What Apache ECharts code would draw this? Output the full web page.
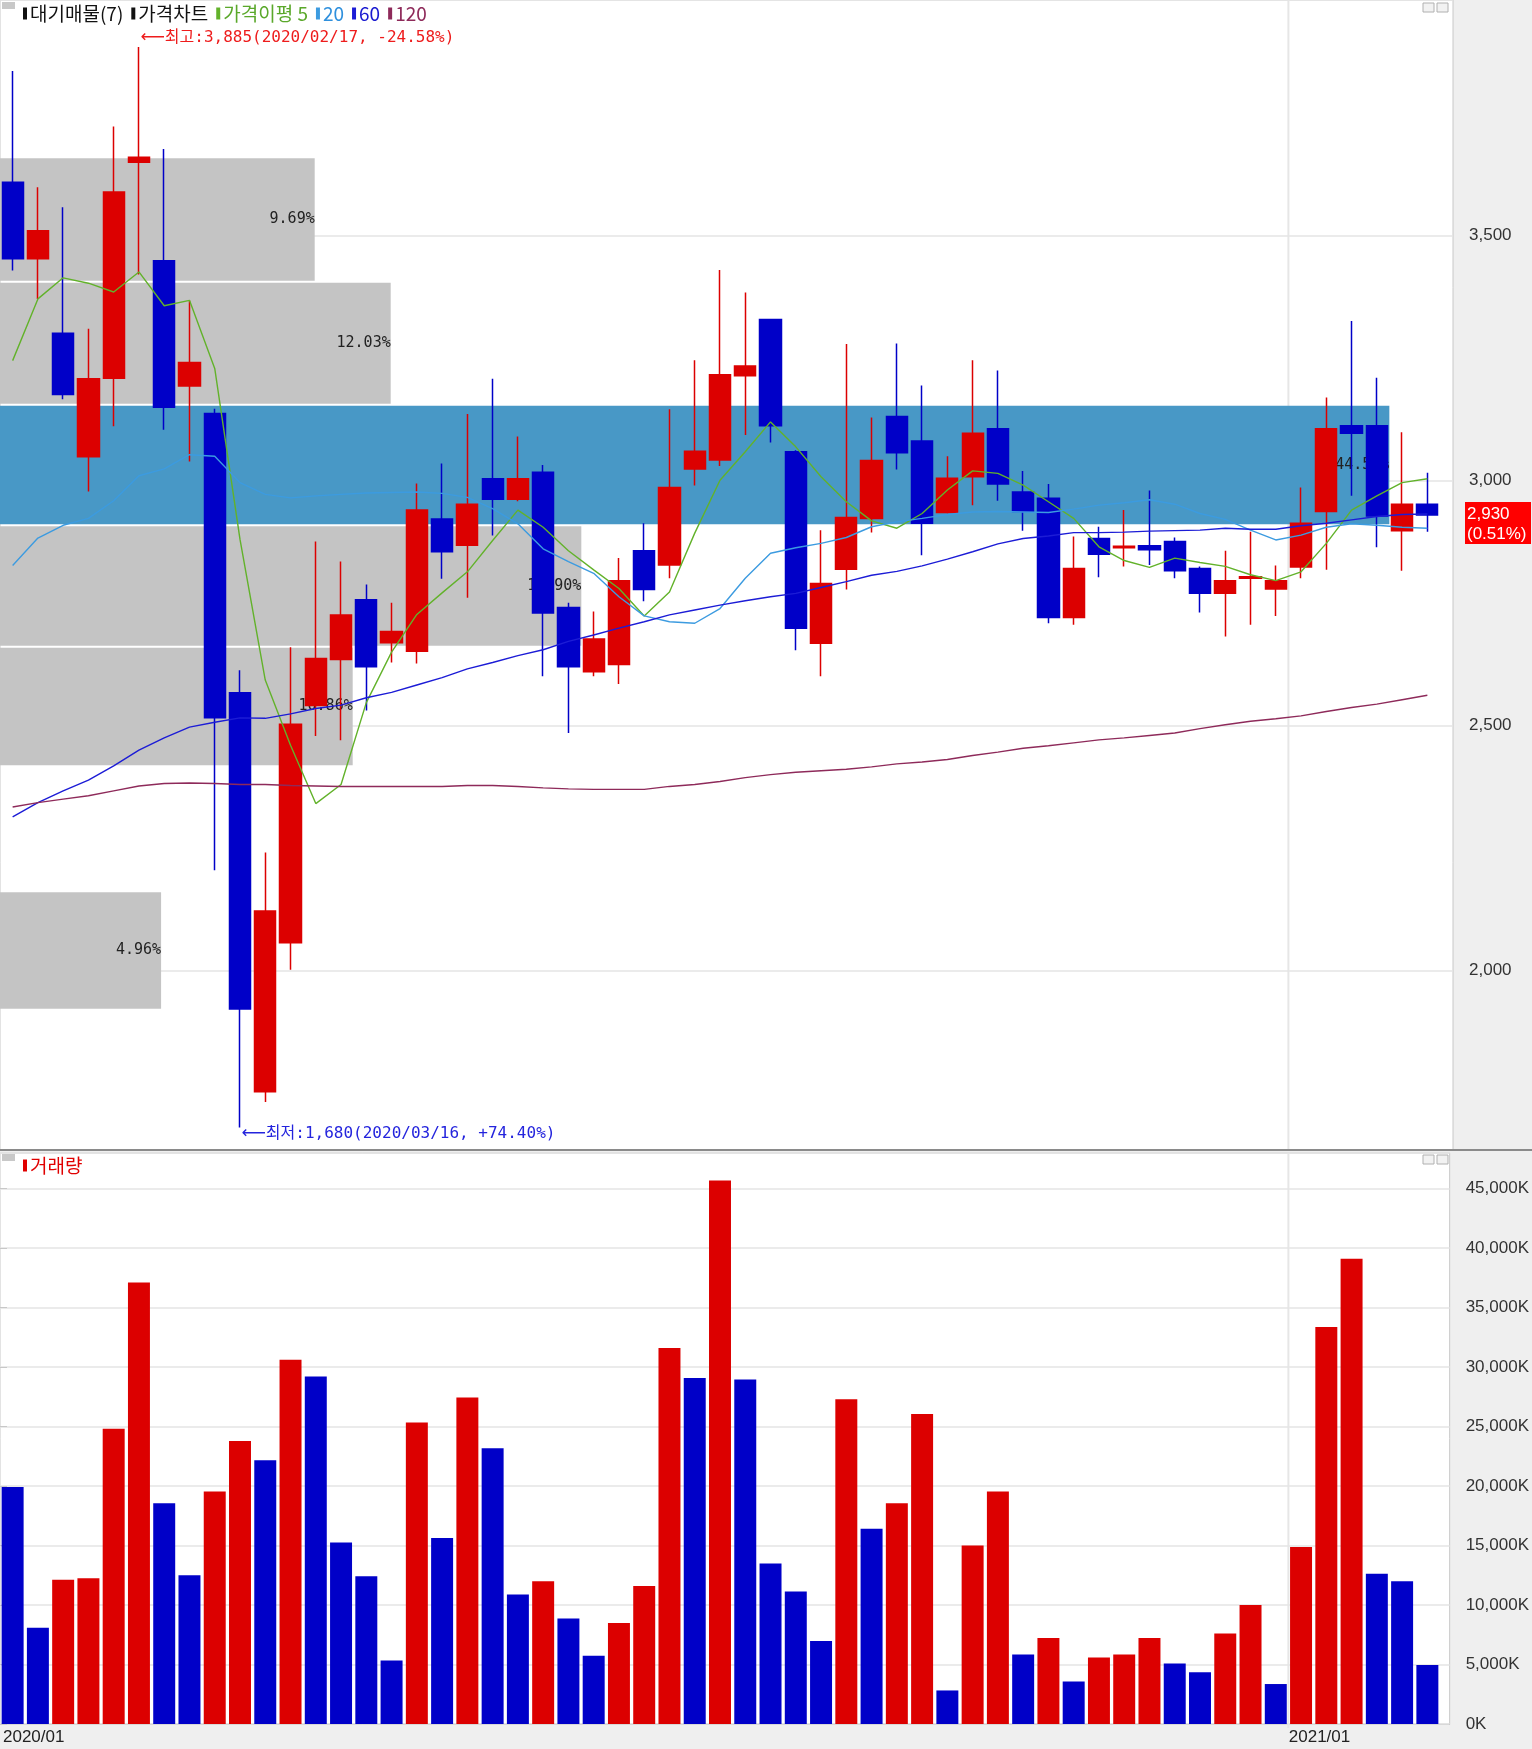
<!DOCTYPE html>
<html>
<head>
<meta charset="utf-8">
<script src="https://cdn.jsdelivr.net/npm/echarts@6/dist/echarts.min.js"></script>
<style>
  html, body { margin: 0; padding: 0; background: #efefef; }
  #chart { width: 1532px; height: 1749px; }
</style>
</head>
<body>
<div id="chart"></div>
<script>
// weekly bars, 2020/01/13 .. 2021/02/08
const dates = [
  '2020/01/13','2020/01/20','2020/01/27','2020/02/03','2020/02/10','2020/02/17','2020/02/24','2020/03/02','2020/03/09','2020/03/16',
  '2020/03/23','2020/03/30','2020/04/06','2020/04/13','2020/04/20','2020/04/27','2020/05/04','2020/05/11','2020/05/18','2020/05/25',
  '2020/06/01','2020/06/08','2020/06/15','2020/06/22','2020/06/29','2020/07/06','2020/07/13','2020/07/20','2020/07/27','2020/08/03',
  '2020/08/10','2020/08/17','2020/08/24','2020/08/31','2020/09/07','2020/09/14','2020/09/21','2020/09/28','2020/10/05','2020/10/12',
  '2020/10/19','2020/10/26','2020/11/02','2020/11/09','2020/11/16','2020/11/23','2020/11/30','2020/12/07','2020/12/14','2020/12/21',
  '2020/12/28','2021/01/04','2021/01/11','2021/01/18','2021/01/25','2021/02/01','2021/02/08'
];
const opens = [
  3609, 3453, 3301, 3049, 3209, 3650, 3449, 3193, 3137, 2567,
  1753, 2057, 2541, 2635, 2757, 2669, 2652, 2922, 2868, 3004,
  2962, 3017, 2741, 2610, 2625, 2857, 2828, 3024, 3042, 3214,
  3329, 3059, 2668, 2819, 2923, 3131, 3081, 2935, 3008, 3106,
  2977, 2964, 2721, 2882, 2863, 2867, 2876, 2821, 2770, 2801,
  2779, 2824, 2937, 3112, 3112, 2898, 2952
];
const closes = [
  3453, 3510, 3176, 3208, 3589, 3660, 3150, 3241, 2516, 1922,
  2122, 2503, 2637, 2726, 2620, 2692, 2940, 2855, 2952, 2962,
  3004, 2730, 2620, 2677, 2796, 2778, 2986, 3060, 3216, 3234,
  3112, 2699, 2790, 2925, 3041, 3057, 2913, 3005, 3097, 2993,
  2937, 2721, 2821, 2850, 2866, 2859, 2816, 2770, 2796, 2804,
  2796, 2913, 3106, 3097, 2928, 2952, 2930
];
const lows = [
  3429, 3371, 3166, 2978, 3111, 3421, 3104, 3039, 2205, 1680,
  1732, 2002, 2479, 2470, 2531, 2629, 2627, 2800, 2761, 2888,
  2958, 2601, 2485, 2601, 2585, 2754, 2801, 2990, 3030, 3093,
  3078, 2654, 2601, 2778, 2894, 3023, 2848, 2933, 2950, 2959,
  2898, 2709, 2706, 2803, 2825, 2828, 2801, 2731, 2682, 2706,
  2724, 2801, 2818, 2969, 2864, 2816, 2896
];
const highs = [
  3836, 3599, 3558, 3310, 3723, 3885, 3677, 3367, 3147, 2613,
  2241, 2660, 2876, 2835, 2788, 2751, 2994, 3035, 3136, 3208,
  3090, 3032, 2751, 2733, 2842, 2913, 3146, 3246, 3430, 3384,
  3329, 3062, 2899, 3279, 3129, 3280, 3194, 3050, 3246, 3225,
  3020, 2993, 2886, 2906, 2940, 2980, 2884, 2825, 2857, 2896,
  2827, 2986, 3170, 3326, 3210, 3099, 3016
];
const ma5 = [
  3245, 3371, 3414, 3403, 3385, 3426, 3357, 3368, 3229, 2880,
  2593, 2460, 2341, 2380, 2547, 2650, 2727, 2771, 2814, 2878,
  2940, 2905, 2857, 2818, 2780, 2724, 2773, 2893, 3001, 3059,
  3120, 3069, 3008, 2957, 2918, 2903, 2933, 2981, 3020, 3015,
  2991, 2957, 2923, 2865, 2837, 2823, 2842, 2833, 2825, 2808,
  2796, 2814, 2872, 2940, 2969, 2996, 3004
];
const ma20 = [
  2827, 2883, 2909, 2923, 2959, 3010, 3024, 3053, 3050, 2996,
  2972, 2965, 2969, 2972, 2975, 2976, 2977, 2974, 2966, 2943,
  2912, 2861, 2835, 2811, 2763, 2724, 2712, 2709, 2739, 2801,
  2852, 2863, 2872, 2884, 2906, 2916, 2923, 2931, 2936, 2937,
  2936, 2935, 2942, 2950, 2955, 2961, 2952, 2933, 2921, 2899,
  2879, 2889, 2905, 2912, 2909, 2905, 2903
];
const ma60 = [
  2314, 2343, 2367, 2389, 2418, 2450, 2475, 2497, 2507, 2516,
  2515, 2524, 2535, 2542, 2557, 2568, 2583, 2598, 2616, 2629,
  2643, 2655, 2672, 2685, 2699, 2712, 2726, 2736, 2746, 2755,
  2763, 2770, 2782, 2794, 2807, 2815, 2826, 2840, 2855, 2871,
  2882, 2887, 2894, 2894, 2895, 2897, 2898, 2899, 2903, 2901,
  2901, 2908, 2913, 2920, 2927, 2931, 2932
];
const ma120 = [
  2334, 2343, 2350, 2357, 2367, 2377, 2382, 2383, 2382, 2380,
  2380, 2378, 2377, 2376, 2376, 2376, 2376, 2376, 2378, 2378,
  2376, 2373, 2371, 2370, 2370, 2370, 2376, 2380, 2386, 2394,
  2400, 2405, 2408, 2411, 2416, 2422, 2426, 2431, 2439, 2446,
  2454, 2459, 2465, 2471, 2475, 2480, 2485, 2494, 2502, 2509,
  2514, 2520, 2529, 2537, 2544, 2553, 2562
];
// volume in thousands of shares
const volumes = [
  19930, 8090, 12120, 12250, 24820, 37110, 18550, 12510, 19550, 23800,
  22170, 30610, 29210, 15260, 12410, 5340, 25340, 15640, 27450, 23190,
  10880, 12000, 8860, 5730, 8480, 11610, 31610, 29080, 45680, 28950,
  13500, 11130, 6970, 27290, 16410, 18550, 26070, 2820, 15000, 19550,
  5850, 7230, 3580, 5600, 5850, 7230, 5090, 4350, 7610, 10010,
  3360, 14880, 33370, 39120, 12640, 12000, 4960
];
// 대기매물 (price-volume profile): band edges top->bottom and share of volume
const profileEdges = [3660, 3406, 3155, 2909, 2661, 2417, 2162, 1920];
const profilePct = [9.69, 12.03, 44.56, 17.90, 10.86, 0, 4.96];
const dayChangePct = 0.51;

const FONT_NUM = '"Liberation Sans", Arial, sans-serif';
const FONT_KR = '"Noto Sans CJK KR", "DejaVu Sans", sans-serif';
const FONT_MONO = '"DejaVu Sans Mono", "Noto Sans CJK KR", monospace';
const upColor = '#dc0000';
const downColor = '#0000c8';

const PRICE_MIN = 1634, PRICE_MAX = 3981;
const VOL_MAX = 48000;
const PROFILE_AXIS_MAX = 44.74, PROFILE_CAP = 42.78;

const fmt = v => v.toLocaleString('en-US');
const signed = v => (v >= 0 ? '+' : '') + v.toFixed(2);

const candleData = dates.map((d, i) => [opens[i], closes[i], lows[i], highs[i]]);
const lastClose = closes[closes.length - 1];
const maxHigh = Math.max(...highs), maxIdx = highs.indexOf(maxHigh);
const minLow = Math.min(...lows), minIdx = lows.indexOf(minLow);
const maxText = '{a|⟵}{t|최고:' + fmt(maxHigh) + '(' + dates[maxIdx] + ', ' + signed((lastClose - maxHigh) / maxHigh * 100) + '%)}';
const minText = '{a|⟵}{t|최저:' + fmt(minLow) + '(' + dates[minIdx] + ', ' + signed((lastClose - minLow) / minLow * 100) + '%)}';
const profileData = profilePct.map((p, i) => [p, profileEdges[i], profileEdges[i + 1]]);

const yearStart = i => i > 0 && i < dates.length && dates[i].slice(0, 4) !== dates[i - 1].slice(0, 4);

const chart = echarts.init(document.getElementById('chart'));

const catAxis = grid => ({
  gridIndex: grid, type: 'category', data: dates, boundaryGap: true,
  axisLine: { show: false }, axisTick: { show: false }, axisLabel: { show: false },
  splitLine: { show: false }
});

const maLine = (name, data, color) => ({
  name, type: 'line', xAxisIndex: 1, yAxisIndex: 1, data,
  symbol: 'none', z: 4, silent: true,
  lineStyle: { color, width: 1.4 }, itemStyle: { color }
});

const extremeLabel = (text, color, dy) => ({
  show: true, position: 'right', distance: 1, offset: [0, dy], formatter: text,
  rich: {
    a: { color, fontSize: 17, fontFamily: '"DejaVu Sans", sans-serif' },
    t: { color, fontSize: 16, fontFamily: FONT_MONO }
  }
});

chart.setOption({
  animation: false,
  backgroundColor: '#efefef',
  legend: [
    {
      left: 23, top: 4, padding: 0, itemWidth: 4, itemHeight: 12, itemGap: 8, icon: 'rect',
      selectedMode: false,
      textStyle: { fontFamily: FONT_KR, fontSize: 19, padding: [0, 0, 0, -2] },
      data: [
        { name: '대기매물(7)', itemStyle: { color: '#111', borderColor: '#111' }, textStyle: { color: '#111' } },
        { name: '가격차트', itemStyle: { color: '#111', borderColor: '#111', borderWidth: 0 }, textStyle: { color: '#111' } },
        { name: '가격이평 5', textStyle: { color: '#5aa82a' } },
        { name: '20', textStyle: { color: '#2f90dd' } },
        { name: '60', textStyle: { color: '#1a1ad0' } },
        { name: '120', textStyle: { color: '#8e2a5a' } }
      ]
    },
    {
      left: 23, top: 1156, padding: 0, itemWidth: 4, itemHeight: 12, icon: 'rect',
      selectedMode: false,
      textStyle: { fontFamily: FONT_KR, fontSize: 19, color: '#e00000', padding: [0, 0, 0, -2] },
      data: [{ name: '거래량', itemStyle: { color: '#e00000' } }]
    }
  ],
  grid: [
    { left: 0, top: 0, width: 1453, height: 1150, show: true, backgroundColor: '#fff', borderColor: '#c8c8c8', borderWidth: 1 },
    { left: 0, top: 0, width: 1440, height: 1150 },
    { left: 0, top: 1153, width: 1453, height: 571, show: true, backgroundColor: '#fff', borderColor: '#c8c8c8', borderWidth: 1 },
    { left: 0, top: 1153, width: 1440, height: 571 }
  ],
  xAxis: [
    { gridIndex: 0, type: 'value', min: 0, max: PROFILE_AXIS_MAX, show: false },
    catAxis(1),
    {
      gridIndex: 2, type: 'value', min: 0, max: 57.5, interval: 1, position: 'bottom',
      axisLine: { show: true, lineStyle: { color: '#b4b4b4' } },
      axisTick: { show: false }, splitLine: { show: false },
      axisLabel: {
        align: 'left', margin: 5, padding: [0, 0, 0, 3], fontFamily: FONT_NUM, fontSize: 17, color: '#222',
        showMaxLabel: false,
        formatter: v => {
          const i = Math.round(v);
          if (i >= dates.length) return '';
          return (i === 0 || yearStart(i)) ? dates[i].slice(0, 7) : '';
        }
      }
    },
    catAxis(3)
  ],
  yAxis: [
    {
      gridIndex: 0, type: 'value', position: 'right', min: PRICE_MIN, max: PRICE_MAX, splitNumber: 5, z: 1,
      axisLine: { show: false },
      axisTick: { show: true, length: 7, lineStyle: { color: '#c8c8c8' } },
      axisLabel: { margin: 16, fontFamily: FONT_NUM, fontSize: 17, color: '#333', formatter: v => fmt(v), showMinLabel: false, showMaxLabel: false },
      splitLine: { show: true, lineStyle: { color: '#e4e4e4', width: 1.5 } }
    },
    { gridIndex: 1, type: 'value', min: PRICE_MIN, max: PRICE_MAX, show: false },
    {
      gridIndex: 2, type: 'value', position: 'right', min: 0, max: VOL_MAX, interval: 5000, z: 1,
      axisLine: { show: false },
      axisTick: { show: true, length: 7, lineStyle: { color: '#c8c8c8' } },
      axisLabel: { margin: 16, fontFamily: FONT_NUM, fontSize: 17, color: '#333', formatter: v => fmt(v) + 'K', showMaxLabel: false },
      splitLine: { show: true, lineStyle: { color: '#e4e4e4', width: 1.5 } }
    },
    { gridIndex: 3, type: 'value', min: 0, max: VOL_MAX, show: false }
  ],
  graphic: {
    elements: [
      { id: 'sep', type: 'rect', shape: { x: 0, y: 1149, width: 1532, height: 2 }, style: { fill: '#8a8a8a' }, z: 20 },
      { id: 'sq1', type: 'rect', shape: { x: 2, y: 2, width: 13, height: 7 }, style: { fill: '#c8c8c8' }, z: 20 },
      { id: 'sq2', type: 'rect', shape: { x: 2, y: 1154, width: 13, height: 7 }, style: { fill: '#c8c8c8' }, z: 20 },
      { id: 'ic1', type: 'rect', shape: { x: 1423, y: 3, width: 11, height: 9 }, style: { fill: '#f2f2f2', stroke: '#b0b0b0', lineWidth: 1 }, z: 20 },
      { id: 'ic2', type: 'rect', shape: { x: 1437, y: 3, width: 11, height: 9 }, style: { fill: '#f2f2f2', stroke: '#b0b0b0', lineWidth: 1 }, z: 20 },
      { id: 'ic3', type: 'rect', shape: { x: 1423, y: 1155, width: 11, height: 9 }, style: { fill: '#f2f2f2', stroke: '#b0b0b0', lineWidth: 1 }, z: 20 },
      { id: 'ic4', type: 'rect', shape: { x: 1437, y: 1155, width: 11, height: 9 }, style: { fill: '#f2f2f2', stroke: '#b0b0b0', lineWidth: 1 }, z: 20 }
    ]
  },
  series: [
    {
      name: '대기매물(7)', type: 'custom', xAxisIndex: 0, yAxisIndex: 0, z: 2, silent: true,
      data: profileData,
      encode: { x: 0, y: [1, 2] },
      renderItem: (params, api) => {
        const pct = api.value(0), top = api.value(1), bottom = api.value(2);
        if (!pct) return null;
        const a = api.coord([0, top]);
        const b = api.coord([Math.min(pct, PROFILE_CAP), bottom]);
        const current = lastClose <= top && lastClose > bottom;
        return {
          type: 'group',
          children: [
            {
              type: 'rect',
              shape: { x: a[0], y: a[1] + 1, width: b[0] - a[0], height: b[1] - a[1] - 2 },
              style: { fill: current ? '#4898c6' : '#c4c4c4' }
            },
            {
              type: 'text',
              style: {
                x: b[0], y: (a[1] + b[1]) / 2, text: pct.toFixed(2) + '%',
                textAlign: 'right', textVerticalAlign: 'middle', align: 'right', verticalAlign: 'middle',
                fill: '#222', font: '15px "DejaVu Sans Mono", monospace'
              }
            }
          ]
        };
      }
    },
    {
      name: '가격차트', type: 'candlestick', xAxisIndex: 1, yAxisIndex: 1, z: 3,
      data: candleData, barWidth: '86%', silent: true,
      itemStyle: { color: upColor, color0: downColor, borderColor: upColor, borderColor0: downColor, borderWidth: 1.5 },
      markPoint: {
        symbol: 'circle', symbolSize: 1, silent: true,
        itemStyle: { color: 'transparent' },
        data: [
          { coord: [maxIdx, maxHigh], label: extremeLabel(maxText, '#ee1c1c', -9) },
          { coord: [minIdx, minLow], label: extremeLabel(minText, '#2424dd', 6) }
        ]
      }
    },
    maLine('가격이평 5', ma5, '#62b22a'),
    maLine('20', ma20, '#3c9be0'),
    maLine('60', ma60, '#1c1cd6'),
    maLine('120', ma120, '#8e2a5a'),
    {
      name: '거래량', type: 'bar', xAxisIndex: 3, yAxisIndex: 3, data: volumes, z: 2,
      barWidth: '87%', silent: true,
      itemStyle: {
        color: p => (p.dataIndex > 0 && volumes[p.dataIndex] > volumes[p.dataIndex - 1]) ? upColor : downColor
      }
    }
  ]
});

// year-boundary gridlines (between last week of a year and first of the next) and current price badge
const extra = [];
dates.forEach((d, i) => {
  if (!yearStart(i)) return;
  const x = (chart.convertToPixel({ xAxisIndex: 1 }, i - 1) + chart.convertToPixel({ xAxisIndex: 1 }, i)) / 2;
  const pTop = chart.convertToPixel({ yAxisIndex: 1 }, PRICE_MAX), pBot = chart.convertToPixel({ yAxisIndex: 1 }, PRICE_MIN);
  const vTop = chart.convertToPixel({ yAxisIndex: 3 }, VOL_MAX), vBot = chart.convertToPixel({ yAxisIndex: 3 }, 0);
  extra.push(
    { id: 'yl' + i, type: 'line', shape: { x1: x, y1: pTop, x2: x, y2: pBot }, style: { stroke: '#e6e6e6', lineWidth: 2 }, z: 1 },
    { id: 'yv' + i, type: 'line', shape: { x1: x, y1: vTop, x2: x, y2: vBot + 4 }, style: { stroke: '#e6e6e6', lineWidth: 2 }, z: 1 }
  );
});
const py = chart.convertToPixel({ yAxisIndex: 0 }, lastClose);
extra.push(
  { id: 'badgeBg', type: 'rect', shape: { x: 1465, y: py - 13, width: 66, height: 42 }, style: { fill: '#ff0000' }, z: 30 },
  {
    id: 'badgeTx', type: 'text', x: 1467, y: py - 11, z: 31,
    style: { text: fmt(lastClose) + '\n(' + dayChangePct.toFixed(2) + '%)', fill: '#fff', font: '17px "Liberation Sans", Arial', lineHeight: 20 }
  }
);
chart.setOption({ graphic: { elements: extra } });
</script>
</body>
</html>
